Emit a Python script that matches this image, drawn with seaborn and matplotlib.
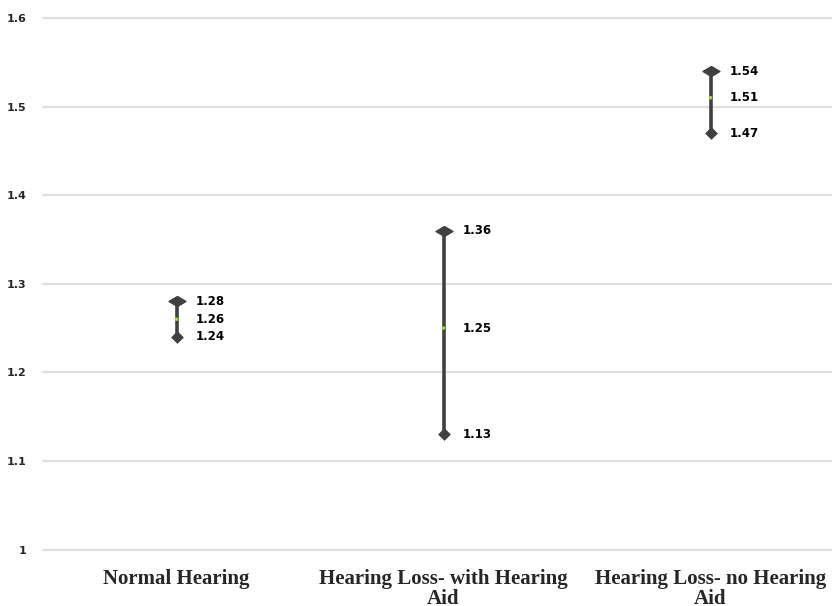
import matplotlib
matplotlib.use("Agg")
import matplotlib.pyplot as plt
import seaborn as sns
import pandas as pd
from matplotlib.path import Path

categories = ["Normal Hearing", "Hearing Loss- with Hearing\nAid", "Hearing Loss- no Hearing\nAid"]
high = [1.28, 1.36, 1.54]
mid = [1.26, 1.25, 1.51]
low = [1.24, 1.13, 1.47]

sns.set_theme(style="white")
plt.rcParams['font.family'] = ['DejaVu Sans']

df = pd.DataFrame({"cat": categories, "high": high, "mid": mid, "low": low})
df["x"] = range(len(categories))

fig = plt.figure(figsize=(8.32, 6.06), dpi=100)
ax = fig.add_axes([43/832, 1 - 549.5/606, 801/832, (549.5 - 18)/606])
ax.set_xlim(-0.5, 2.5)
ax.set_ylim(1.0, 1.6)

for y in [1.0, 1.1, 1.2, 1.3, 1.4, 1.5, 1.6]:
    ax.axhline(y, color="#e0e0e0", lw=1.6, zorder=0, clip_on=False)

dark = "#404040"
ax.vlines(df["x"], df["low"], df["high"], color=dark, lw=2.6, zorder=2)

wide_diamond = Path([(0, 1), (1.7, 0), (0, -1), (-1.7, 0), (0, 1)],
                    [Path.MOVETO, Path.LINETO, Path.LINETO, Path.LINETO, Path.CLOSEPOLY])
sns.scatterplot(data=df, x="x", y="high", marker=wide_diamond, s=150, color=dark,
                edgecolor=dark, ax=ax, zorder=3, legend=False)
sns.scatterplot(data=df, x="x", y="low", marker="D", s=36, color=dark,
                edgecolor=dark, ax=ax, zorder=3, legend=False)
sns.scatterplot(data=df, x="x", y="mid", marker="o", s=7, color="#9bd24a",
                edgecolor="none", ax=ax, zorder=4, legend=False)

for col in ["high", "mid", "low"]:
    for xi, v in zip(df["x"], df[col]):
        ax.annotate(f"{v:.2f}", (xi, v), xytext=(14, 0), textcoords="offset points",
                    va="center", ha="left", fontsize=8.5, fontweight="bold", color="black")

ax.set_xticks(df["x"])
ax.set_xticklabels(categories, family=["Liberation Serif", "DejaVu Serif"], fontsize=15,
                   fontweight="bold", linespacing=1.0)
ax.set_yticks([1.0, 1.1, 1.2, 1.3, 1.4, 1.5, 1.6])
ax.set_yticklabels(["1", "1.1", "1.2", "1.3", "1.4", "1.5", "1.6"], fontsize=8, fontweight="bold")
ax.tick_params(axis="y", pad=12, length=0)
ax.tick_params(axis="x", pad=14, length=0)
ax.set_xlabel("")
ax.set_ylabel("")
for s in ax.spines.values():
    s.set_visible(False)

fig.savefig("out.png", dpi=100)
